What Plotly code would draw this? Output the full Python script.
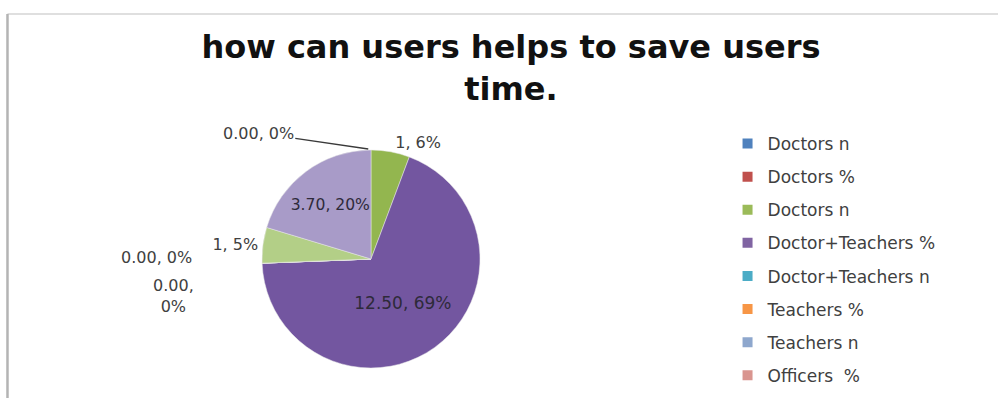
import plotly.graph_objects as go

# ---- data ----
slice_names = ["Doctors n", "Doctors %", "Doctors n (2)", "Doctor+Teachers %",
               "Doctor+Teachers n", "Teachers %", "Teachers n", "Officers  %",
               "Officers n", "Total %"]
slice_values = [0.0, 0.0, 1.04, 12.50, 0.0, 0.0, 0.0, 0.0, 0.96, 3.70]
value_labels = ["0.00", "0.00", "1", "12.50", "0.00", "0.00", "0.00", "0.00", "1", "3.70"]
slice_colors = ["#4F81BD", "#C0504D", "#93B64F", "#7356A0", "#4BACC6",
                "#F79646", "#8EA7CD", "#D9958F", "#B3CF87", "#A89BC8"]
text_pos = ["outside", "outside", "outside", "inside", "outside",
            "outside", "outside", "outside", "outside", "inside"]

legend_names = ["Doctors n", "Doctors %", "Doctors n", "Doctor+Teachers %",
                "Doctor+Teachers n", "Teachers %", "Teachers n", "Officers  %"]
legend_colors = ["#4F81BD", "#C0504D", "#9BBB59", "#8064A2",
                 "#4BACC6", "#F79646", "#8EA7CD", "#D9958F"]

zero_labels = ["0.00, 0%", "0.00, 0%", "0.00,<br>0%"]

TXT = "#404040"
FONT = "DejaVu Sans"

templates = ["%{customdata}, %{percent:.0%}" if v > 0 else "" for v in slice_values]

fig = go.Figure()
fig.add_trace(go.Pie(
    labels=slice_names, values=slice_values, customdata=value_labels,
    sort=False, direction="clockwise", rotation=0,
    marker=dict(colors=slice_colors, line=dict(color="#e8e8e8", width=0.5)),
    texttemplate=templates,
    textposition=text_pos, insidetextorientation="horizontal",
    textfont=dict(family=FONT, size=16, color="#2e2a3a"),
    insidetextfont=dict(family=FONT, size=17, color="#2e2a3a"),
    outsidetextfont=dict(family=FONT, size=16, color=TXT),
    domain=dict(x=[0.2625, 0.481], y=[0.0754, 0.6231]),
    showlegend=False, hoverinfo="label+value+percent",
))

for i, (n, c) in enumerate(zip(legend_names, legend_colors)):
    fig.add_trace(go.Scatter(
        x=[None], y=[None], mode="markers", name=n, legendgroup=str(i),
        marker=dict(symbol="square", size=10, color=c),
    ))

# zero-value data labels (empty slices)
fig.add_annotation(x=0.369, y=1 - 149 / 398, xref="paper", yref="paper",
                   text=zero_labels[0], showarrow=True, ax=-110, ay=-16,
                   arrowhead=0, arrowwidth=1.3, arrowcolor="#3a3a3a",
                   font=dict(family=FONT, size=16, color=TXT))
fig.add_annotation(x=0.194, y=1 - 257 / 398, xref="paper", yref="paper",
                   text=zero_labels[1], showarrow=False, xanchor="right",
                   yanchor="middle",
                   font=dict(family=FONT, size=16, color=TXT))
fig.add_annotation(x=0.196, y=1 - 274 / 398, xref="paper", yref="paper",
                   text=zero_labels[2], showarrow=False, xanchor="right",
                   yanchor="top", align="center",
                   font=dict(family=FONT, size=16, color=TXT))

fig.update_layout(
    width=998, height=398,
    margin=dict(l=0, r=0, t=0, b=0, autoexpand=False),
    paper_bgcolor="white", plot_bgcolor="white",
    title=dict(text="<b>how can users helps to save users<br>time.</b>",
               x=0.512, xanchor="center", y=1 - 58 / 398, yanchor="middle",
               font=dict(family="DejaVu Sans", size=32, color="#111111")),
    xaxis=dict(visible=False), yaxis=dict(visible=False),
    legend=dict(x=0.729, y=1 - 126 / 398, xanchor="left", yanchor="top",
                font=dict(family=FONT, size=17, color=TXT),
                tracegroupgap=8, itemwidth=30, bgcolor="rgba(0,0,0,0)"),
    shapes=[
        dict(type="line", xref="paper", yref="paper", x0=0.0075, x1=1,
             y0=1 - 14 / 398, y1=1 - 14 / 398, line=dict(color="#d4d4d4", width=1.5)),
        dict(type="line", xref="paper", yref="paper", x0=0.0075, x1=0.0075,
             y0=0, y1=1 - 14 / 398, line=dict(color="#b4b4b4", width=2.5)),
    ],
)

fig.write_html("out.html")
